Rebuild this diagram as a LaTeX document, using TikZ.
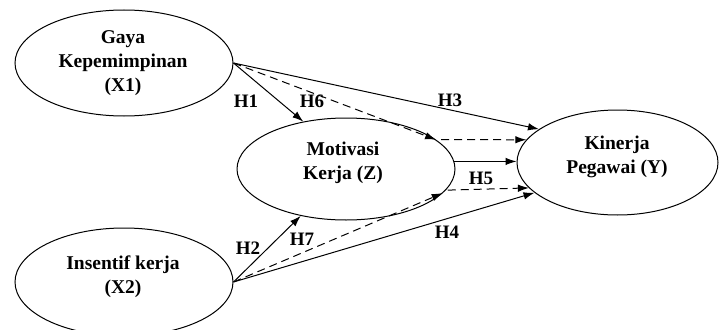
\documentclass[tikz,border=0pt]{standalone}
\usepackage{fontspec}
\setmainfont{Liberation Serif}
\usetikzlibrary{shapes.geometric,arrows.meta,calc}
\begin{document}
\begin{tikzpicture}[x=1pt,y=-1pt,
  var/.style={ellipse,draw,line width=1pt,inner sep=0pt},
  txt/.style={font=\fontsize{19.5}{24}\selectfont\bfseries,align=center,inner sep=0pt},
  hlab/.style={font=\fontsize{19}{22}\selectfont\bfseries,inner sep=0pt},
  arr/.style={line width=1pt,-{Latex[length=11pt,width=7.5pt]}},
  darr/.style={arr,dash pattern=on 8pt off 5pt}]
\useasboundingbox (0,0) rectangle (719,329);
% latent variables
\node[var,minimum width=218pt,minimum height=106pt] (x1) at (124,63) {};
\node[var,minimum width=218pt,minimum height=108pt] (x2) at (124,282) {};
\node[var,minimum width=218pt,minimum height=102pt] (z) at (346,169) {};
\node[var,minimum width=201pt,minimum height=105pt] (y) at (617.5,162.5) {};
% texts
\node[txt] (x1t) at (123,63) {Gaya\\Kepemimpinan\\(X1)};
\node[txt] (x2t) at (123,277) {Insentif kerja\\(X2)};
\node[txt] (zt) at (343,163) {Motivasi\\Kerja (Z)};
\node[txt] (yt) at (617,157) {Kinerja\\Pegawai (Y)};
% direct paths
\draw[arr] (x1.east) -- (z.132);
\draw[arr] (x1.east) -- (y.157);
\draw[arr] (x2.east) -- (z.226);
\draw[arr] (x2.east) -- (y.200);
\draw[arr] (z.4) -- (z.4 -| y.west);
% mediated (dashed) paths
\draw[darr] (x1.east) -- (z.18);
\draw[darr] ($(z.18)+(5,0)$) -- (y.166);
\draw[darr] (x2.east) -- (z.346);
\draw[darr] ($(z.346)+(5,-3)$) -- (y.196);
% labels
\node[hlab] (h1) at (246,101) {H1};
\node[hlab] (h6) at (312,101) {H6};
\node[hlab] (h3) at (450,100) {H3};
\node[hlab] (h5) at (481,178) {H5};
\node[hlab] (h4) at (447,232) {H4};
\node[hlab] (h2) at (248,248) {H2};
\node[hlab] (h7) at (302,239) {H7};
\end{tikzpicture}
\end{document}
